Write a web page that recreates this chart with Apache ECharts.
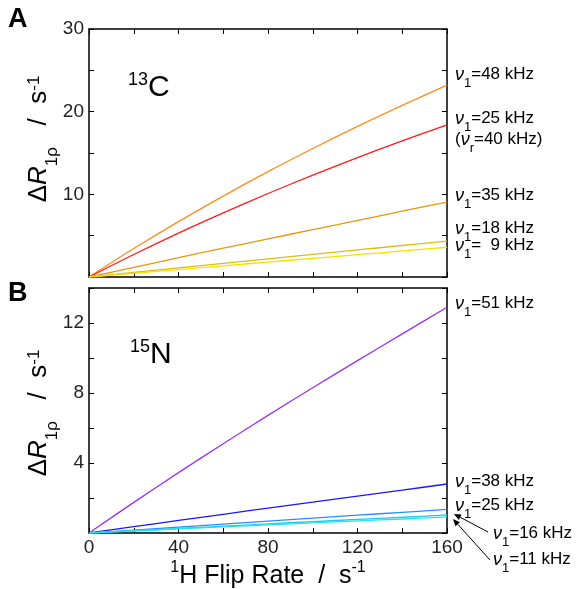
<!DOCTYPE html>
<html><head><meta charset="utf-8">
<script src="https://cdn.jsdelivr.net/npm/echarts@6/dist/echarts.min.js"></script>
<style>html,body{margin:0;padding:0;background:#fff}#c{width:581px;height:589px}</style>
</head><body><div id="c"></div>
<script>
// X positions (1H flip rate, s^-1)
const flipRate = [0, 20, 40, 60, 80, 100, 120, 140, 160];
// Panel A: 13C
const c48 = [0, 3.44, 6.70, 9.79, 12.74, 15.54, 18.22, 20.77, 23.2];
const c25 = [0, 2.72, 5.31, 7.76, 10.10, 12.32, 14.44, 16.46, 18.4];
const c35 = [0, 1.17, 2.33, 3.48, 4.61, 5.73, 6.84, 7.96, 9.07];
const c18 = [0, 0.55, 1.10, 1.64, 2.19, 2.73, 3.27, 3.81, 4.35];
const c09 = [0, 0.45, 0.90, 1.35, 1.80, 2.25, 2.70, 3.15, 3.60];
// Panel B: 15N
const n51 = [0, 1.75, 3.45, 5.10, 6.72, 8.30, 9.85, 11.38, 12.9];
const n38 = [0, 0.36, 0.72, 1.07, 1.42, 1.76, 2.11, 2.45, 2.8];
const n25 = [0, 0.17, 0.34, 0.51, 0.68, 0.85, 1.02, 1.18, 1.35];
const n16 = [0, 0.13, 0.26, 0.39, 0.52, 0.65, 0.78, 0.90, 1.03];
const n11 = [0, 0.115, 0.23, 0.345, 0.46, 0.575, 0.69, 0.80, 0.92];
// Tick labels
const xTickLabels = [0, 40, 80, 120, 160];
const yTickLabelsA = [10, 20, 30];
const yTickLabelsB = [4, 8, 12];

const FONT = 'Liberation Sans, Arial, Helvetica, sans-serif';
const chart = echarts.init(document.getElementById('c'));
const pairs = ys => flipRate.map((x, i) => [x, ys[i]]);

function xAxis(gi, pos, labels) {
  return {
    type: 'value', gridIndex: gi, position: pos, min: 0, max: 160, interval: 20,
    axisLine: {show: true, onZero: false, lineStyle: {color: '#000', width: 1.5}},
    axisTick: {show: true, inside: true, length: 5, lineStyle: {color: '#000', width: 1}},
    axisLabel: {show: labels, color: '#222', fontSize: 19, fontFamily: FONT, margin: 5,
      formatter: v => xTickLabels.indexOf(v) >= 0 ? String(v) : ''},
    splitLine: {show: false}
  };
}
function yAxis(gi, pos, max, interval, labs) {
  return {
    type: 'value', gridIndex: gi, position: pos, min: 0, max: max, interval: interval,
    axisLine: {show: true, onZero: false, lineStyle: {color: '#000', width: 1.5}},
    axisTick: {show: true, inside: true, length: 5, lineStyle: {color: '#000', width: 1}},
    axisLabel: {show: !!labs, color: '#222', fontSize: 19, fontFamily: FONT, margin: 5,
      formatter: v => (labs && labs.indexOf(v) >= 0) ? String(v) : ''},
    splitLine: {show: false}
  };
}
function line(name, gi, ys, color) {
  return {
    name: name, type: 'line', xAxisIndex: gi * 2, yAxisIndex: gi * 2,
    data: pairs(ys), smooth: 0.3, showSymbol: false, symbol: 'none',
    lineStyle: {color: color, width: 1.3}, z: 3, animation: false
  };
}

// main tokens top-aligned, subscripts bottom-aligned in a taller line (z = strut)
const labRich = {
  nu: {fontSize: 18, fontStyle: 'italic', fontFamily: FONT, color: '#111', lineHeight: 20, verticalAlign: 'top'},
  sub: {fontSize: 13, fontFamily: FONT, color: '#111', lineHeight: 14, verticalAlign: 'bottom'},
  t: {fontSize: 17, fontFamily: FONT, color: '#111', lineHeight: 20, verticalAlign: 'top'},
  z: {fontSize: 1, lineHeight: 24, width: 0}
};
function nuLabel(x, y, khz) {
  return {type: 'text', left: x, top: y - 10, style: {
    text: '{z| }{nu|ν}{sub|1}{t|=' + khz + ' kHz}', rich: labRich}};
}
function arrow(x1, y1, x2, y2) {
  const a = Math.atan2(y2 - y1, x2 - x1), L = 7, W = 3;
  const bx = x2 - L * Math.cos(a), by = y2 - L * Math.sin(a);
  const px = -Math.sin(a) * W, py = Math.cos(a) * W;
  return [
    {type: 'line', shape: {x1: x1, y1: y1, x2: bx, y2: by}, style: {stroke: '#000', lineWidth: 1}},
    {type: 'polygon', shape: {points: [[x2, y2], [bx + px, by + py], [bx - px, by - py]]}, style: {fill: '#000'}}
  ];
}
const yRich = {
  a: {fontSize: 26, fontFamily: FONT, color: '#111', lineHeight: 30, verticalAlign: 'top'},
  i: {fontSize: 26, fontFamily: FONT, fontStyle: 'italic', color: '#111', lineHeight: 30, verticalAlign: 'top'},
  sub: {fontSize: 17, fontFamily: FONT, color: '#111', verticalAlign: 'bottom', lineHeight: 18},
  sup: {fontSize: 17, fontFamily: FONT, color: '#111', verticalAlign: 'top', lineHeight: 18},
  z: {fontSize: 1, lineHeight: 35, width: 0}
};
function yTitle(cx, cy) {
  return {type: 'text', x: cx, y: cy, rotation: Math.PI / 2, style: {
    text: '{z| }{a|Δ}{i|R}{sub|1ρ}{a|   /  s}{sup|-1}', rich: yRich, align: 'center', verticalAlign: 'middle'}};
}
const isoRich = {
  s: {fontSize: 18, fontFamily: FONT, verticalAlign: 'top', lineHeight: 34, color: '#000'},
  b: {fontSize: 30, fontFamily: FONT, lineHeight: 34, color: '#000'}
};

const graphic = [
  {type: 'text', left: 8, top: 6, style: {text: 'A', font: 'bold 27px ' + FONT, fill: '#000'}},
  {type: 'text', left: 8, top: 280, style: {text: 'B', font: 'bold 27px ' + FONT, fill: '#000'}},
  yTitle(43, 139), yTitle(43, 413),
  {type: 'text', left: 128, top: 71, style: {text: '{s|13}{b|C}', rich: isoRich}},
  {type: 'text', left: 130, top: 338, style: {text: '{s|15}{b|N}', rich: isoRich}},
  {type: 'text', x: 268, y: 576, style: {text: '{s|1}{b|H Flip Rate  /  s}{s|-1}', align: 'center', verticalAlign: 'middle', rich: {
    s: {fontSize: 16, fontFamily: FONT, verticalAlign: 'top', lineHeight: 32, color: '#111'},
    b: {fontSize: 25, fontFamily: FONT, lineHeight: 32, color: '#111'}}}},
  nuLabel(455, 76, 48),
  nuLabel(455, 120, 25),
  {type: 'text', left: 455, top: 131, style: {text: '{z| }{t|(}{nu|ν}{sub|r}{t|=40 kHz)}', rich: labRich}},
  nuLabel(455, 197, 35),
  nuLabel(455, 230, 18),
  nuLabel(455, 247, '  9'),
  nuLabel(455, 305, 51),
  nuLabel(455, 483, 38),
  nuLabel(455, 507, 25),
  nuLabel(493, 535, 16),
  nuLabel(493, 561, 11)
].concat(arrow(488, 532, 454, 514), arrow(490, 560, 453, 519));

chart.setOption({
  backgroundColor: '#fff',
  animation: false,
  grid: [
    {left: 89, width: 358, top: 29, height: 248},
    {left: 89, width: 358, top: 288, height: 245}
  ],
  xAxis: [xAxis(0, 'bottom', false), xAxis(0, 'top', false), xAxis(1, 'bottom', true), xAxis(1, 'top', false)],
  yAxis: [yAxis(0, 'left', 30, 5, yTickLabelsA), yAxis(0, 'right', 30, 5, null),
          yAxis(1, 'left', 14, 2, yTickLabelsB), yAxis(1, 'right', 14, 2, null)],
  series: [
    line('48 kHz', 0, c48, '#ff8c1a'),
    line('25 kHz', 0, c25, '#ff1a1a'),
    line('35 kHz', 0, c35, '#e8960f'),
    line('18 kHz', 0, c18, '#e0bc10'),
    line('9 kHz', 0, c09, '#f2e200'),
    line('51 kHz', 1, n51, '#9933ee'),
    line('38 kHz', 1, n38, '#1a1aee'),
    line('25 kHz B', 1, n25, '#2a8cff'),
    line('16 kHz', 1, n16, '#1ec8f0'),
    line('11 kHz', 1, n11, '#20e8e0')
  ],
  graphic: graphic
});
</script></body></html>
